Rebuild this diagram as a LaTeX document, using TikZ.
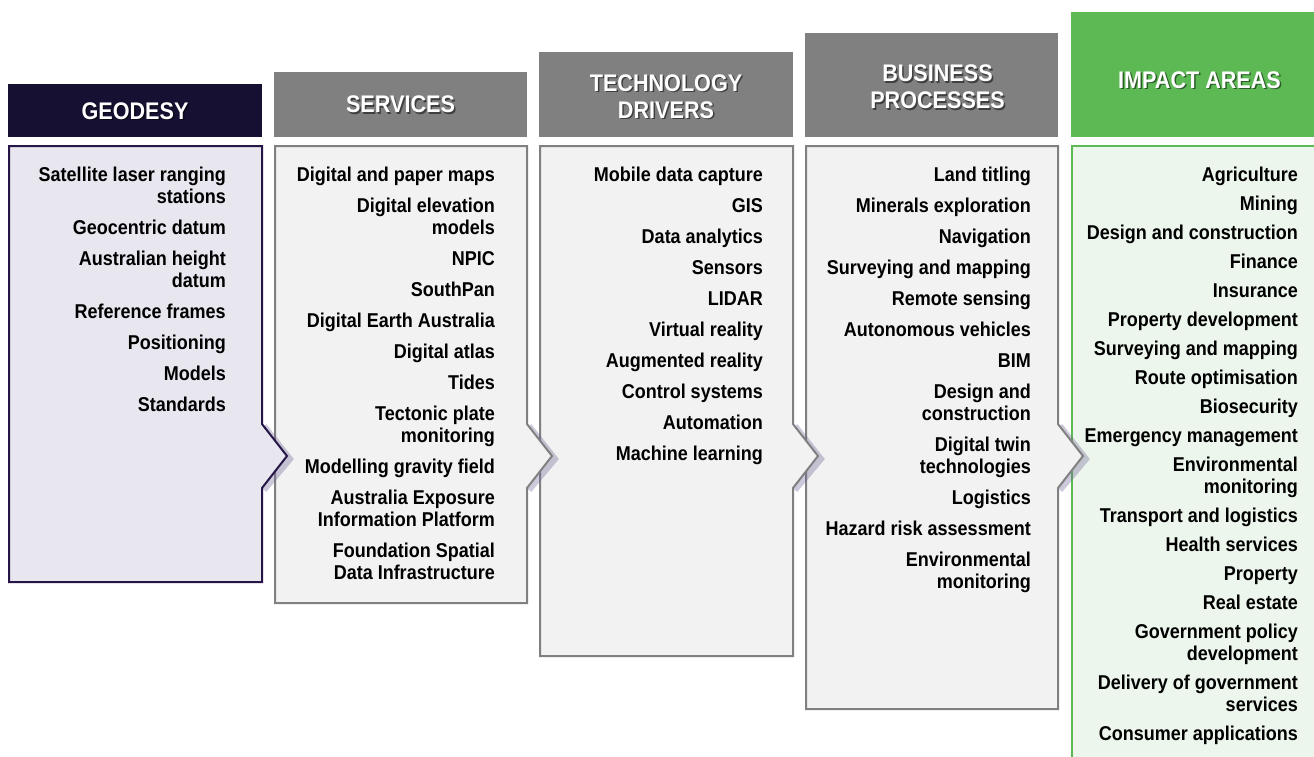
\documentclass[tikz,border=0pt]{standalone}
\usepackage{fontspec}
\setmainfont{Liberation Sans}
\newfontfamily\narrowfont{Liberation Sans}[FakeStretch=0.9]
\definecolor{navy}{RGB}{22,16,50}
\definecolor{navyline}{RGB}{38,22,72}
\definecolor{lavbody}{RGB}{232,230,238}
\definecolor{hdrgray}{RGB}{128,128,128}
\definecolor{graybody}{RGB}{242,242,242}
\definecolor{grayline}{RGB}{128,128,128}
\definecolor{impgreen}{RGB}{92,185,84}
\definecolor{impbody}{RGB}{236,246,236}
\definecolor{shadowpurple}{RGB}{110,100,150}
\tikzset{
  hdr/.style={font=\narrowfont\fontsize{24}{27}\selectfont\bfseries, text=white, align=center, inner sep=0pt},
  hdrshadow/.style={hdr, text=black, opacity=0.5},
  items/.style={font=\narrowfont\fontsize{20}{22}\selectfont\bfseries, text=black, align=right, inner sep=0pt, anchor=north east},
  bodybox/.style={line width=2pt, line join=miter},
  chevshadow/.style={draw=shadowpurple, opacity=0.35, line width=6pt}
}
\begin{document}
\begin{tikzpicture}[x=1pt,y=-1pt]
\useasboundingbox (0,0) rectangle (1314,756);
% ---------- headers ----------
\fill[navy] (8,84) rectangle (262,137);
\fill[hdrgray] (274,72) rectangle (527,137);
\fill[hdrgray] (539,52) rectangle (793,137);
\fill[hdrgray] (805,33) rectangle (1058,137);
\fill[impgreen] (1071,12) rectangle (1320,137);
% ---------- column 5 body ----------
\filldraw[bodybox, fill=impbody, draw=impgreen] (1072,146) rectangle (1322,762);
% ---------- column 4 body ----------
\draw[chevshadow] (1060,426) -- (1086,459) -- (1060,490);
\filldraw[bodybox, fill=graybody, draw=grayline] (806,146) -- (1058,146) -- (1058,424) -- (1083,456) -- (1058,488) -- (1058,709) -- (806,709) -- cycle;
% ---------- column 3 body ----------
\draw[chevshadow] (795,426) -- (821,459) -- (795,490);
\filldraw[bodybox, fill=graybody, draw=grayline] (540,146) -- (793,146) -- (793,424) -- (818,456) -- (793,488) -- (793,656) -- (540,656) -- cycle;
% ---------- column 2 body ----------
\draw[chevshadow] (529,426) -- (555,459) -- (529,490);
\filldraw[bodybox, fill=graybody, draw=grayline] (275,146) -- (527,146) -- (527,424) -- (552,456) -- (527,488) -- (527,603) -- (275,603) -- cycle;
% ---------- column 1 body ----------
\draw[chevshadow] (264,426) -- (290,459) -- (264,490);
\filldraw[bodybox, fill=lavbody, draw=navyline] (9,146) -- (262,146) -- (262,424) -- (287,456) -- (262,488) -- (262,582) -- (9,582) -- cycle;
% ---------- header texts ----------
\node[hdrshadow] (h1s) at (136.5,112.5) {GEODESY};
\node[hdr] (h1) at (135,111) {GEODESY};
\node[hdrshadow] (h2s) at (402,106) {SERVICES};
\node[hdr] (h2) at (400.5,104.5) {SERVICES};
\node[hdrshadow] (h3s) at (667.5,98) {TECHNOLOGY\\DRIVERS};
\node[hdr] (h3) at (666,96.5) {TECHNOLOGY\\DRIVERS};
\node[hdrshadow] (h4s) at (939,88.5) {BUSINESS\\PROCESSES};
\node[hdr] (h4) at (937.5,87) {BUSINESS\\PROCESSES};
\node[hdrshadow] (h5s) at (1201,81.5) {IMPACT AREAS};
\node[hdr] (h5) at (1199.5,80) {IMPACT AREAS};
% ---------- item lists ----------
\node[items] (l1) at (226,167) {Satellite laser ranging\\stations\\[9pt]
Geocentric datum\\[9pt]
Australian height\\datum\\[9pt]
Reference frames\\[9pt]
Positioning\\[9pt]
Models\\[9pt]
Standards};
\node[items] (l2) at (495,167) {Digital and paper maps\\[9pt]
Digital elevation\\models\\[9pt]
NPIC\\[9pt]
SouthPan\\[9pt]
Digital Earth Australia\\[9pt]
Digital atlas\\[9pt]
Tides\\[9pt]
Tectonic plate\\monitoring\\[9pt]
Modelling gravity field\\[9pt]
Australia Exposure\\Information Platform\\[9pt]
Foundation Spatial\\Data Infrastructure};
\node[items] (l3) at (763,167) {Mobile data capture\\[9pt]
GIS\\[9pt]
Data analytics\\[9pt]
Sensors\\[9pt]
LIDAR\\[9pt]
Virtual reality\\[9pt]
Augmented reality\\[9pt]
Control systems\\[9pt]
Automation\\[9pt]
Machine learning};
\node[items] (l4) at (1031,167) {Land titling\\[9pt]
Minerals exploration\\[9pt]
Navigation\\[9pt]
Surveying and mapping\\[9pt]
Remote sensing\\[9pt]
Autonomous vehicles\\[9pt]
BIM\\[9pt]
Design and\\construction\\[9pt]
Digital twin\\technologies\\[9pt]
Logistics\\[9pt]
Hazard risk assessment\\[9pt]
Environmental\\monitoring};
\node[items] (l5) at (1298,167) {Agriculture\\[7pt]
Mining\\[7pt]
Design and construction\\[7pt]
Finance\\[7pt]
Insurance\\[7pt]
Property development\\[7pt]
Surveying and mapping\\[7pt]
Route optimisation\\[7pt]
Biosecurity\\[7pt]
Emergency management\\[7pt]
Environmental\\monitoring\\[7pt]
Transport and logistics\\[7pt]
Health services\\[7pt]
Property\\[7pt]
Real estate\\[7pt]
Government policy\\development\\[7pt]
Delivery of government\\services\\[7pt]
Consumer applications};
\end{tikzpicture}
\end{document}
